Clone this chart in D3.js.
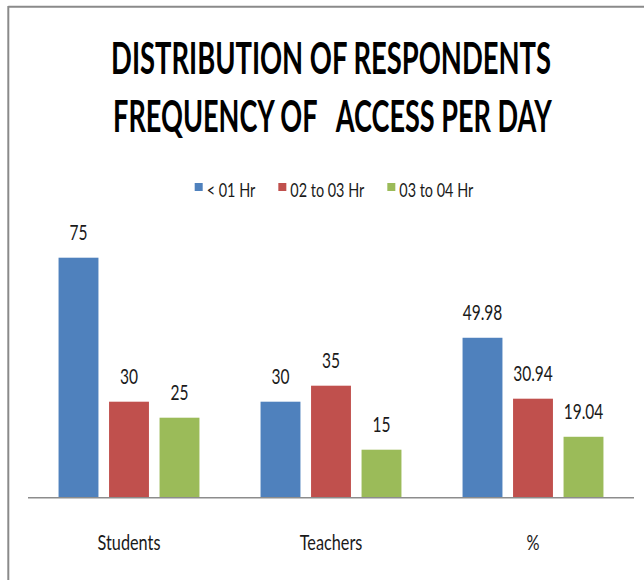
<!DOCTYPE html>
<html>
<head>
<meta charset="utf-8">
<script src="https://cdn.jsdelivr.net/npm/d3@7"></script>
<style>
  html, body { margin: 0; padding: 0; background: #fff; }
  svg { display: block; }
  text { font-family: Lato, "Open Sans", sans-serif; fill: #1a1a1a; }
</style>
</head>
<body>
<svg id="chart" width="644" height="580"></svg>
<script>
const titleLines = ["DISTRIBUTION OF RESPONDENTS", "FREQUENCY OF   ACCESS PER DAY"];
const categories = ["Students", "Teachers", "%"];
const seriesNames = ["< 01 Hr", "02 to 03 Hr", "03 to 04 Hr"];
const seriesColors = ["#4f81bd", "#c0504d", "#9bbb59"];
const lessThan1Hr = [75, 30, 49.98];
const from2to3Hr = [30, 35, 30.94];
const from3to4Hr = [25, 15, 19.04];
const valueLabels = [["75", "30", "49.98"], ["30", "35", "30.94"], ["25", "15", "19.04"]];
const yMax = 80;

const seriesValues = [lessThan1Hr, from2to3Hr, from3to4Hr];
const SX = 0.74;

const svg = d3.select("#chart");

// frame lines (top and left)
svg.append("line").attr("x1", 8.3).attr("x2", 644).attr("y1", 6.7).attr("y2", 6.7)
  .attr("stroke", "#8a8a8a").attr("stroke-width", 2);
svg.append("line").attr("x1", 8.3).attr("x2", 8.3).attr("y1", 6).attr("y2", 580)
  .attr("stroke", "#8a8a8a").attr("stroke-width", 2);

// title (condensed via horizontal scale fitted to target width)
const titleY = [73.5, 132];
const titleX = [331, 332.5];
const titleW = [440, 439];
titleLines.forEach((t, i) => {
  const el = svg.append("text")
    .attr("x", 0).attr("y", 0)
    .attr("text-anchor", "middle")
    .attr("font-size", 43).attr("font-weight", 700)
    .style("white-space", "pre")
    .attr("xml:space", "preserve")
    .style("fill", "#000")
    .text(t);
  const w = el.node().getComputedTextLength();
  el.attr("transform", `translate(${titleX[i]},${titleY[i]}) scale(${titleW[i] / w},1)`);
});

// scales
const plotLeft = 28, plotRight = 634, baseY = 497.7;
const x0 = d3.scaleBand().domain(categories).range([plotLeft, plotRight]).padding(0);
const x1 = d3.scaleBand().domain(d3.range(seriesNames.length))
  .range([0, x0.bandwidth()]).paddingInner(0.21).paddingOuter(0.605);
const y = d3.scaleLinear().domain([0, yMax]).range([baseY, baseY - 3.2 * yMax]);

function sqText(sel, x, yy, size, anchor) {
  return sel.append("text")
    .attr("transform", `translate(${x},${yy}) scale(${SX},1)`)
    .attr("text-anchor", anchor || "middle")
    .attr("font-size", size);
}

// bars
seriesValues.forEach((vals, s) => {
  const g = svg.append("g");
  categories.forEach((c, ci) => {
    const bx = x0(c) + x1(s);
    g.append("rect")
      .attr("x", bx).attr("y", y(vals[ci]))
      .attr("width", x1.bandwidth()).attr("height", y(0) - y(vals[ci]))
      .attr("fill", seriesColors[s]);
    sqText(svg, bx + x1.bandwidth() / 2, y(vals[ci]) - 18, 21).text(valueLabels[s][ci]);
  });
});

// x axis line
svg.append("line").attr("x1", plotLeft).attr("x2", plotRight)
  .attr("y1", baseY).attr("y2", baseY)
  .attr("stroke", "#8c8c8c").attr("stroke-width", 1.5);

// category labels
categories.forEach(c => {
  sqText(svg, x0(c) + x0.bandwidth() / 2, 549.5, 22).text(c);
});

// legend
const legG = svg.append("g");
let lx = 0;
seriesNames.forEach((n, i) => {
  legG.append("rect").attr("x", lx).attr("y", 183).attr("width", 8).attr("height", 8)
    .attr("fill", seriesColors[i]);
  const t = sqText(legG, lx + 12, 196.5, 19.5, "start").text(n);
  const w = t.node().getComputedTextLength() * SX;
  lx += 12 + w + 23;
});
const legW = lx - 23;
legG.attr("transform", `translate(${334 - legW / 2},0)`);
</script>
</body>
</html>
